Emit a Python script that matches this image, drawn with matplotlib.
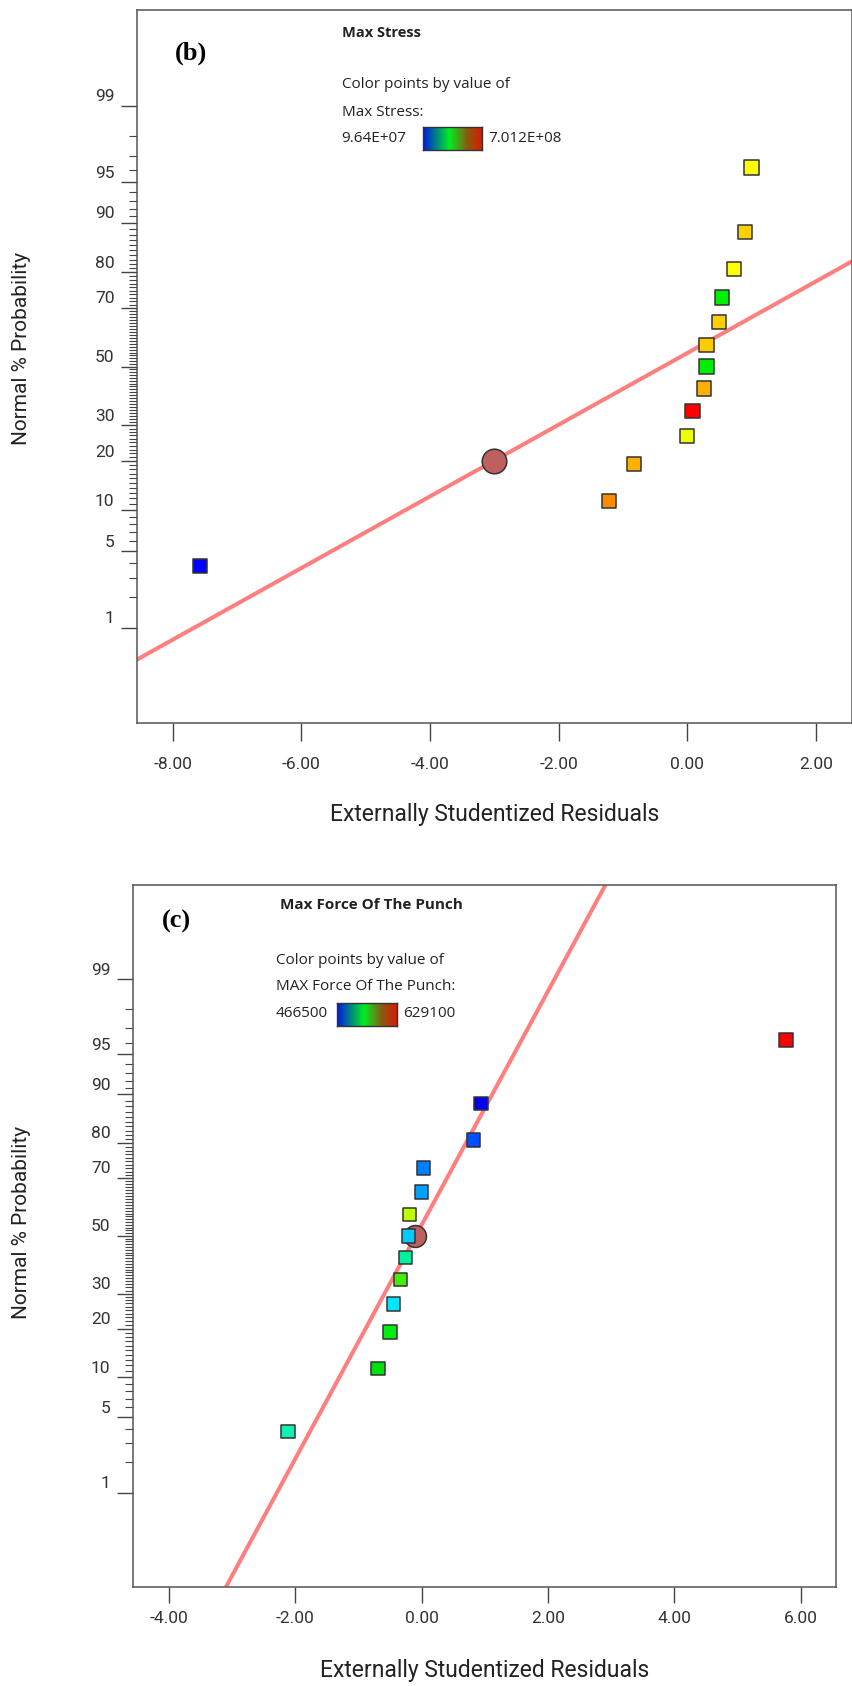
import numpy as np
import matplotlib
matplotlib.use('Agg')
import matplotlib.pyplot as plt
from matplotlib.colors import LinearSegmentedColormap
from matplotlib.transforms import ScaledTranslation
from statistics import NormalDist

plt.rcParams['font.family'] = ['Roboto', 'DejaVu Sans']

# normal probability (%) of each run, same for both responses
prob_pct = [3.8, 11.5, 19.2, 26.9, 34.6, 42.3, 50.0, 57.7, 65.4, 73.1, 80.8, 88.5, 96.2]

# (b) Max Stress
stress_resid = [-7.58, -1.22, -0.83, 0.00, 0.08, 0.26, 0.30, 0.30, 0.49, 0.54, 0.73, 0.90, 1.00]
stress_colors = ['#0000ff', '#ff8c00', '#ffb000', '#eeff00', '#ff0000', '#ffb000', '#00ee00',
                 '#ffcc00', '#ffd000', '#00ee00', '#ffff00', '#ffd000', '#ffff00']
stress_line = (-0.38, 3.13)      # centre, spread of the normal line
stress_marker = (-3.00, 20.1)    # highlighted point on the line
stress_range = ('9.64E+07', '7.012E+08')

# (c) Max Force Of The Punch
punch_resid = [-2.12, -0.69, -0.50, -0.45, -0.34, -0.26, -0.21, -0.19, 0.00, 0.03, 0.82, 0.94, 5.77]
punch_colors = ['#10f0b0', '#00e010', '#00ee10', '#00e5ff', '#40f000', '#00f0a0', '#00ccff',
                '#c0ff00', '#00a0ff', '#0080ff', '#0050ff', '#0000ee', '#ff0000']
punch_line = (-0.095, 0.944)
punch_marker = (-0.10, 50.0)
punch_range = ('466500', '629100')

major_pct = [1, 5, 10, 20, 30, 50, 70, 80, 90, 95, 99]
minor_pct = [p for p in range(1, 100) if p not in major_pct]

W, H = 853, 1686
fig = plt.figure(figsize=(W / 100, H / 100), dpi=100)
inv = NormalDist().inv_cdf


def probit(p):
    return np.array([inv(v / 100.0) for v in np.atleast_1d(p)])


def box(l, t, r, b):
    return [l / W, 1 - b / H, (r - l) / W, (b - t) / H]


def ftxt(x, y, s, **kw):
    fig.text(x / W, 1 - y / H, s, va='center', ha='left', **kw)


cmap = LinearSegmentedColormap.from_list('de', [(0, '#0018e8'), (0.45, '#00ee20'),
                                                (0.75, '#8a5a10'), (1, '#d81a00')])
ZL = 3.18


def panel(rect, resid, colors, line, marker, xticks, xlim, ms, cs, xtick_len, xpad):
    ax = fig.add_axes(rect)
    zz = np.array([-ZL - 0.5, ZL + 0.5])
    ax.plot(line[0] + line[1] * zz, zz, color='#ff7f7f', lw=2.9, zorder=2)
    ax.plot(marker[0], probit(marker[1]), 'o', ms=cs, mfc='#bf6060', mec='#333333', mew=1.1, zorder=3)
    ax.scatter(resid, probit(prob_pct), marker='s', s=ms ** 2, c=colors,
               edgecolors='#333333', linewidths=1.1, zorder=4)
    ax.set_xlim(*xlim)
    ax.set_ylim(-ZL, ZL)
    ax.set_xticks(xticks)
    ax.set_xticklabels(['%.2f' % v for v in xticks])
    ax.set_yticks(probit(major_pct))
    ax.set_yticklabels([str(p) for p in major_pct])
    ax.set_yticks(probit(minor_pct), minor=True)
    for s in ax.spines.values():
        s.set_color('#555555')
        s.set_linewidth(1.1)
    ax.tick_params(axis='y', which='major', length=11.5, width=1.0, color='#444444',
                   pad=5, labelsize=12.5, labelcolor='#333333')
    ax.tick_params(axis='y', which='minor', length=5.5, width=0.8, color='#444444')
    ax.tick_params(axis='x', length=xtick_len, width=1.0, color='#444444',
                   pad=xpad, labelsize=12.5, labelcolor='#333333')
    off = ScaledTranslation(0, 0.105, fig.dpi_scale_trans)
    for lab in ax.get_yticklabels():
        lab.set_transform(lab.get_transform() + off)
    return ax


# top panel (b)
panel(box(137.3, 10, 852, 723.3), stress_resid, stress_colors, stress_line, stress_marker,
      [-8, -6, -4, -2, 0, 2], (-8.55, 2.56), 10.3, 17.7, 13, 11.5)
# bottom panel (c)
panel(box(133.3, 885, 835.5, 1586.7), punch_resid, punch_colors, punch_line, punch_marker,
      [-4, -2, 0, 2, 4, 6], (-4.566, 6.55), 9.7, 15.8, 11.5, 6)

sans = dict(color='#222222', family=['Open Sans', 'DejaVu Sans'])
ftxt(175, 53, '(b)', family='Liberation Serif', fontweight='bold', fontsize=19)
ftxt(341.7, 33.3, 'Max Stress', fontweight='bold', fontsize=10.5, **sans)
ftxt(341.7, 85, 'Color points by value of', fontsize=11, **sans)
ftxt(341.7, 112.7, 'Max Stress:', fontsize=11, **sans)
ftxt(341.7, 138.3, stress_range[0], fontsize=11, **sans)
ftxt(488.3, 138.3, stress_range[1], fontsize=11, **sans)

ftxt(162.3, 921.7, '(c)', family='Liberation Serif', fontweight='bold', fontsize=19)
ftxt(280, 905, 'Max Force Of The Punch', fontweight='bold', fontsize=11, **sans)
ftxt(275.7, 960, 'Color points by value of', fontsize=11, **sans)
ftxt(275.7, 986.7, 'MAX Force Of The Punch:', fontsize=11, **sans)
ftxt(275.7, 1014, punch_range[0], fontsize=11, **sans)
ftxt(403.3, 1014, punch_range[1], fontsize=11, **sans)

grad = np.linspace(0, 1, 256)[None, :]
for r in [box(423.3, 126.7, 481.7, 150), box(336.7, 1003.3, 396.7, 1025.7)]:
    cax = fig.add_axes(r)
    cax.imshow(grad, aspect='auto', cmap=cmap)
    cax.set_xticks([])
    cax.set_yticks([])
    for s in cax.spines.values():
        s.set_color('#333333')
        s.set_linewidth(1.0)

for yc, xc in [(348, 22), (1222, 22)]:
    fig.text(xc / W, 1 - yc / H, 'Normal % Probability', rotation=90, va='center', ha='center',
             fontsize=15, color='#222222')
fig.text(494.6 / W, 1 - 814 / H, 'Externally Studentized Residuals', va='center', ha='center',
         fontsize=16.5, color='#222222')
fig.text(484.4 / W, 1 - 1670 / H, 'Externally Studentized Residuals', va='center', ha='center',
         fontsize=16.5, color='#222222')

fig.savefig('out.png', dpi=100, facecolor='white')
